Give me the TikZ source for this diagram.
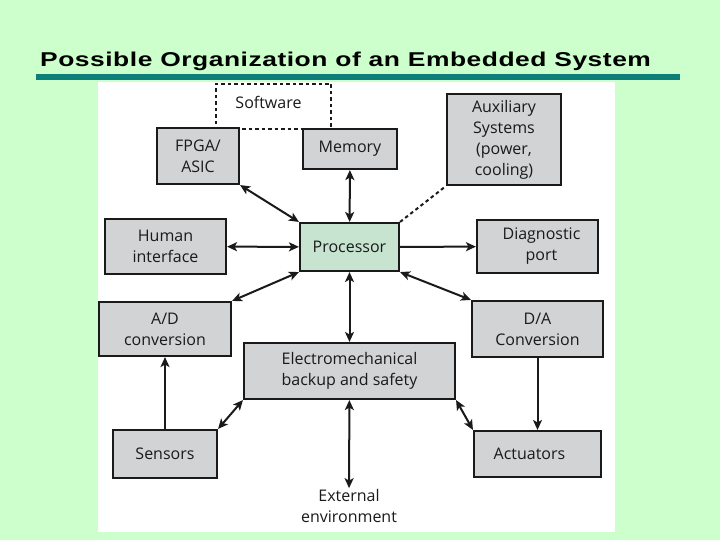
\documentclass[tikz,border=0pt]{standalone}
\usepackage{fontspec}
\setsansfont{Open Sans}
\newfontfamily\titlefont[LetterSpace=2]{Liberation Sans}
\usepackage{tikz}
\usetikzlibrary{positioning,arrows.meta,calc}
\definecolor{slideG}{HTML}{CCFFCC}
\definecolor{barT}{HTML}{0B7F78}
\definecolor{boxG}{HTML}{D2D3D5}
\definecolor{procG}{HTML}{C6E4CF}
\definecolor{lineK}{HTML}{1A1A1A}

\begin{document}
\begin{tikzpicture}[
  x=1pt, y=-1pt,
  every node/.style={font=\sffamily\fontsize{16}{21}\selectfont, text=lineK},
  unit/.style={rectangle, draw=lineK, line width=2.1pt, fill=boxG,
               align=center, inner sep=2pt},
  soft/.style={rectangle, draw=lineK, line width=2pt, fill=white,
               dash pattern=on 3.5pt off 3pt},
  arr/.style={{Stealth[length=10pt,width=9pt,inset=2.5pt]}-{Stealth[length=10pt,width=9pt,inset=2.5pt]},
              line width=2pt, lineK},
  oneway/.style={-{Stealth[length=10pt,width=9pt,inset=2.5pt]}, line width=2pt, lineK}
]
  % slide background and panel
  \fill[slideG] (0,0) rectangle (720,540);
  \fill[white] (98,82) rectangle (615,532);
  \node[anchor=base west, font=\titlefont\bfseries\fontsize{20}{22}\selectfont, text=black, inner sep=0pt]
        (title) at (40,67) {\scalebox{1.32}[1]{Possible Organization of an Embedded System}};
  \fill[barT] (36,74) rectangle (680,80);

  % blocks
  \node[soft, minimum width=115pt, minimum height=45pt, anchor=center,
        label={[anchor=north, yshift=-10pt, xshift=-5pt]north:Software}] (sw) at (273.5,106.5) {};
  \node[unit, minimum width=82pt, minimum height=56pt] (fpga) at (198,156) {FPGA/\\ASIC};
  \node[unit, minimum width=94pt, minimum height=40pt] (mem) at (350,149) {Memory};
  \node[unit, fill=procG, minimum width=99pt, minimum height=48pt] (proc) at (349.5,247) {Processor};
  \node[unit, minimum width=121pt, minimum height=55pt] (human) at (165.5,246.5) {Human\\interface};
  \node[unit, minimum width=114pt, minimum height=91pt] (aux) at (504,139.5) {Auxiliary\\Systems\\(power,\\cooling)};
  \node[unit, minimum width=121pt, minimum height=53pt] (diag) at (537.5,246.5) {\hspace*{8pt}Diagnostic\\\hspace*{8pt}port};
  \node[unit, minimum width=132pt, minimum height=54pt] (ad) at (165,329) {A/D\\conversion};
  \node[unit, minimum width=211pt, minimum height=56pt] (elec) at (349.5,371) {Electromechanical\\backup and safety};
  \node[unit, minimum width=104pt, minimum height=48pt] (sens) at (165,454) {Sensors};
  \node[unit, minimum width=131pt, minimum height=56pt] (da) at (537.5,329) {D/A\\Conversion};
  \node[unit, minimum width=127pt, minimum height=46pt] (act) at (537.5,454) {Actuators\hspace*{16pt}};
  \node[align=center, inner sep=1pt] (ext) at (349,506) {External\\environment};

  % connections
  \draw[arr] (fpga.south east) -- (proc.north west);
  \draw[arr] (mem) -- (proc);
  \draw[arr] (human) -- (proc);
  \draw[line width=2pt, lineK, dash pattern=on 3.5pt off 3pt] (proc.north east) -- (aux.south west);
  \draw[oneway] (proc) -- (diag);
  \draw[arr] (proc.south west) -- (ad.north east);
  \draw[arr] (proc) -- (elec);
  \draw[arr] (proc.south east) -- (da.north west);
  \draw[oneway] (sens) -- (ad);
  \draw[arr] (sens.north east) -- (elec.south west);
  \draw[arr] (elec.south east) -- (act.north west);
  \draw[oneway] (da) -- (act);
  \draw[arr] (elec) -- (ext);
\end{tikzpicture}
\end{document}
